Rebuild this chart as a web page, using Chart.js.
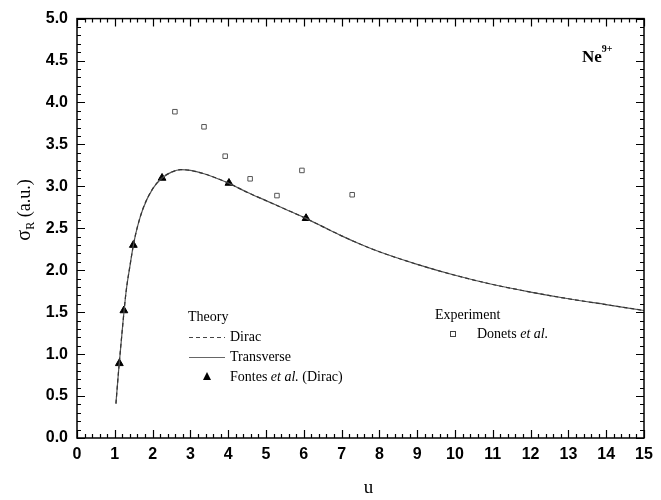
<!DOCTYPE html>
<html>
<head>
<meta charset="utf-8">
<script src="https://cdn.jsdelivr.net/npm/chart.js@4.4.1/dist/chart.umd.min.js"></script>
<style>
html,body{margin:0;padding:0;background:#fff;}
#wrap{width:661px;height:500px;position:relative;}
</style>
</head>
<body>
<div id="wrap"><canvas id="c" width="661" height="500"></canvas></div>
<script>
// Theory curves (u, sigma_R)
const curveU = [1.03,1.1,1.2,1.3,1.4,1.5,1.6,1.75,2.0,2.25,2.5,2.75,3.0,3.5,4.0,4.5,5.0,5.5,6.0,6.5,7.0,7.5,8.0,9.0,10,11,12,13,14,15];
const diracSigma = [0.41,0.80,1.30,1.75,2.05,2.32,2.52,2.74,2.97,3.10,3.17,3.20,3.19,3.13,3.04,2.93,2.83,2.73,2.63,2.52,2.41,2.31,2.22,2.07,1.94,1.83,1.74,1.66,1.59,1.52];
const transverseSigma = [0.41,0.80,1.30,1.75,2.05,2.32,2.52,2.74,2.97,3.10,3.17,3.20,3.19,3.13,3.04,2.93,2.83,2.73,2.63,2.52,2.41,2.31,2.22,2.07,1.94,1.83,1.74,1.66,1.59,1.52];
// Fontes et al. (Dirac)
const fontesU = [1.12,1.24,1.49,2.25,4.02,6.06];
const fontesSigma = [0.89,1.52,2.30,3.10,3.04,2.62];
// Donets et al. (experiment)
const donetsU = [2.59,3.36,3.92,4.58,5.29,5.95,7.28];
const donetsSigma = [3.89,3.71,3.36,3.09,2.89,3.19,2.90];
// Axis ranges / ticks
const xRange = [0, 15];
const yRange = [0, 5];
const xMajor = 1, xMinor = 0.2;
const yMajor = 0.5, yMinor = 0.1;

const pts = (xs, ys) => xs.map((x, i) => ({x: x, y: ys[i]}));

const framePlugin = {
  id: 'frame',
  afterDatasetsDraw(chart) {
    const ctx = chart.ctx, a = chart.chartArea;
    const xs = chart.scales.x, ys = chart.scales.y;
    ctx.save();
    ctx.strokeStyle = '#000';
    ctx.lineWidth = 1.5;
    ctx.strokeRect(a.left, a.top, a.right - a.left, a.bottom - a.top);
    ctx.lineWidth = 1.2;
    ctx.beginPath();
    const nx = Math.round((xRange[1] - xRange[0]) / xMinor);
    for (let i = 0; i <= nx; i++) {
      const v = xRange[0] + i * xMinor;
      const px = Math.round(xs.getPixelForValue(v)) + 0.5;
      const major = (i % Math.round(xMajor / xMinor)) === 0;
      const L = major ? 8 : 4;
      ctx.moveTo(px, a.bottom); ctx.lineTo(px, a.bottom - L);
      ctx.moveTo(px, a.top); ctx.lineTo(px, a.top + L);
    }
    const ny = Math.round((yRange[1] - yRange[0]) / yMinor);
    for (let i = 0; i <= ny; i++) {
      const v = yRange[0] + i * yMinor;
      const py = Math.round(ys.getPixelForValue(v)) + 0.5;
      const major = (i % Math.round(yMajor / yMinor)) === 0;
      const L = major ? 8 : 4;
      ctx.moveTo(a.left, py); ctx.lineTo(a.left + L, py);
      ctx.moveTo(a.right, py); ctx.lineTo(a.right - L, py);
    }
    ctx.stroke();

    // Axis titles
    ctx.fillStyle = '#000';
    ctx.font = '19px "Liberation Serif", serif';
    ctx.textAlign = 'center';
    ctx.textBaseline = 'middle';
    ctx.fillText('u', (a.left + a.right) / 2 + 8, 488);

    ctx.save();
    ctx.translate(24, 210);
    ctx.rotate(-Math.PI / 2);
    ctx.textAlign = 'left';
    ctx.textBaseline = 'alphabetic';
    ctx.font = '20px "Liberation Serif", serif';
    const s1 = 'σ';
    const w1 = ctx.measureText(s1).width;
    ctx.font = '12px "Liberation Serif", serif';
    const s2 = 'R';
    const w2 = ctx.measureText(s2).width;
    ctx.font = '18px "Liberation Serif", serif';
    const s3 = ' (a.u.)';
    const w3 = ctx.measureText(s3).width;
    let x0 = -(w1 + w2 + w3) / 2;
    ctx.font = '20px "Liberation Serif", serif';
    ctx.fillText(s1, x0, 6);
    ctx.font = '12px "Liberation Serif", serif';
    ctx.fillText(s2, x0 + w1, 10);
    ctx.font = '18px "Liberation Serif", serif';
    ctx.fillText(s3, x0 + w1 + w2, 6);
    ctx.restore();

    // Ne9+ label
    ctx.textAlign = 'left';
    ctx.textBaseline = 'alphabetic';
    ctx.font = 'bold 17px "Liberation Serif", serif';
    ctx.fillText('Ne', 582, 62);
    const wNe = ctx.measureText('Ne').width;
    ctx.font = 'bold 10px "Liberation Serif", serif';
    ctx.fillText('9+', 582 + wNe, 52);

    // Legends
    ctx.font = '14px "Liberation Serif", serif';
    ctx.textBaseline = 'middle';
    ctx.fillText('Theory', 188, 317);
    ctx.strokeStyle = '#444';
    ctx.lineWidth = 1;
    ctx.setLineDash([4, 3]);
    ctx.beginPath(); ctx.moveTo(189, 337.5); ctx.lineTo(225, 337.5); ctx.stroke();
    ctx.setLineDash([]);
    ctx.strokeStyle = '#666';
    ctx.lineWidth = 1.2;
    ctx.beginPath(); ctx.moveTo(189, 357.5); ctx.lineTo(225, 357.5); ctx.stroke();
    ctx.fillText('Dirac', 230, 337);
    ctx.fillText('Transverse', 230, 357);
    ctx.beginPath();
    ctx.moveTo(207, 372); ctx.lineTo(211, 380); ctx.lineTo(203, 380); ctx.closePath();
    ctx.fillStyle = '#000'; ctx.fill();
    let tx = 230;
    ctx.fillText('Fontes ', tx, 377); tx += ctx.measureText('Fontes ').width;
    ctx.font = 'italic 14px "Liberation Serif", serif';
    ctx.fillText('et al.', tx, 377); tx += ctx.measureText('et al.').width;
    ctx.font = '14px "Liberation Serif", serif';
    ctx.fillText(' (Dirac)', tx, 377);

    ctx.fillText('Experiment', 435, 315);
    ctx.strokeStyle = '#444'; ctx.lineWidth = 1;
    ctx.strokeRect(450.5, 331.5, 5, 5);
    tx = 477;
    ctx.fillText('Donets ', tx, 334); tx += ctx.measureText('Donets ').width;
    ctx.font = 'italic 14px "Liberation Serif", serif';
    ctx.fillText('et al.', tx, 334);
    ctx.restore();
  }
};

new Chart(document.getElementById('c'), {
  type: 'scatter',
  data: {
    datasets: [
      { label: 'Dirac', data: pts(curveU, diracSigma), showLine: true, borderColor: '#333', borderWidth: 1.2, borderDash: [4, 3], pointRadius: 0, cubicInterpolationMode: 'monotone', fill: false },
      { label: 'Transverse', data: pts(curveU, transverseSigma), showLine: true, borderColor: '#555', borderWidth: 1.2, pointRadius: 0, cubicInterpolationMode: 'monotone', fill: false },
      { label: 'Fontes et al. (Dirac)', data: pts(fontesU, fontesSigma), pointStyle: 'triangle', pointRadius: 4.5, backgroundColor: '#000', borderColor: '#000', borderWidth: 1 },
      { label: 'Donets et al.', data: pts(donetsU, donetsSigma), pointStyle: 'rect', pointRadius: 3.2, backgroundColor: '#fff', borderColor: '#555', borderWidth: 1 }
    ]
  },
  options: {
    responsive: false,
    animation: false,
    devicePixelRatio: 1,
    layout: { padding: { left: 0, right: 17, top: 16, bottom: 0 } },
    plugins: { legend: { display: false }, tooltip: { enabled: false } },
    scales: {
      x: {
        type: 'linear', min: xRange[0], max: xRange[1],
        ticks: { stepSize: xMajor, color: '#000', font: { family: '"Liberation Sans", Arial, sans-serif', weight: 'bold', size: 16 }, padding: 7, maxRotation: 0, autoSkip: false },
        grid: { display: true, drawOnChartArea: false, drawTicks: false },
        border: { display: false },
        afterFit(s) { s.height = 62; }
      },
      y: {
        type: 'linear', min: yRange[0], max: yRange[1],
        ticks: { stepSize: yMajor, color: '#000', font: { family: '"Liberation Sans", Arial, sans-serif', weight: 'bold', size: 16 }, padding: 9, callback: v => v.toFixed(1) },
        grid: { display: true, drawOnChartArea: false, drawTicks: false },
        border: { display: false },
        afterFit(s) { s.width = 77; }
      }
    }
  },
  plugins: [framePlugin]
});
</script>
</body>
</html>
